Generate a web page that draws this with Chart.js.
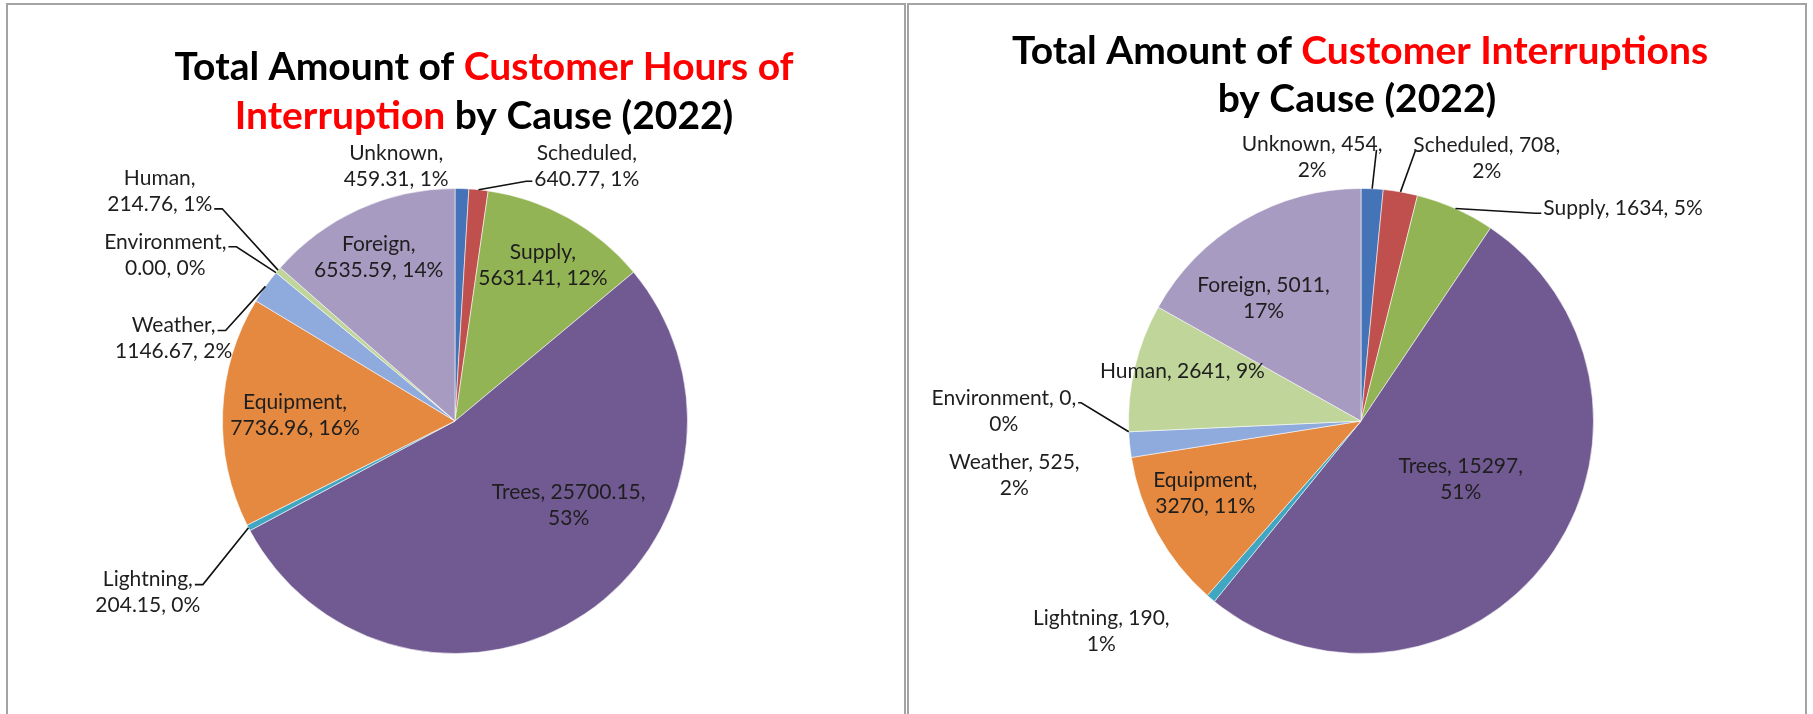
<!DOCTYPE html>
<html>
<head>
<meta charset="utf-8">
<title>Customer Hours of Interruption and Customer Interruptions by Cause (2022)</title>
<script src="https://cdn.jsdelivr.net/npm/chart.js@4.4.0/dist/chart.umd.min.js"></script>
<style>
  body { margin: 0; background: #fff; width: 1813px; height: 714px; overflow: hidden; position: relative; }
  .panel { position: absolute; top: 3px; width: 900px; height: 760px; border: 2px solid #a3a3a3; box-sizing: border-box; background: #fff; }
  .panel canvas { position: absolute; left: 0; top: 0; }
</style>
</head>
<body>
<div class="panel" style="left:6px"><canvas id="hoursChart" width="896" height="709"></canvas></div>
<div class="panel" style="left:907px"><canvas id="countChart" width="896" height="709"></canvas></div>

<script>
// data (slices run clockwise from 12 o'clock)
const causes = ['Unknown', 'Scheduled', 'Supply', 'Trees', 'Lightning', 'Equipment', 'Weather', 'Environment', 'Human', 'Foreign'];
const hoursValues = [459.31, 640.77, 5631.41, 25700.15, 204.15, 7736.96, 1146.67, 0.00, 214.76, 6535.59];
const hoursPercent = [1, 1, 12, 53, 0, 16, 2, 0, 1, 14];
const countValues = [454, 708, 1634, 15297, 190, 3270, 525, 0, 2641, 5011];
const countPercent = [2, 2, 5, 51, 1, 11, 2, 0, 9, 17];

const sliceColors = ['#4473b7', '#c0504d', '#93b455', '#715991', '#41a6c2', '#e4893f', '#8faadc', '#e6b9b8', '#c0d59a', '#a89bc1'];

const LABEL_FONT = '21px Lato, "Open Sans", sans-serif';
const TITLE_FONT = 'bold 39px Lato, "Open Sans", sans-serif';
const LINE_H = 26;

// label placement: fx/fy are offsets from the pie centre in radii, split = where the text wraps
const hoursPlaces = [
  { fx: -0.253, fy: -1.096, split: 1 },
  { fx: 0.567, fy: -1.096, split: 1, leader: { line: 1, side: 'left', stub: 6, dy: 2 } },
  { fx: 0.378, fy: -0.670, split: 1 },
  { fx: 0.489, fy: 0.361, split: 2 },
  { fx: -1.321, fy: 0.738, split: 1, leader: { line: 0, side: 'right', stub: 8, dy: 5 } },
  { fx: -0.688, fy: -0.025, split: 1 },
  { fx: -1.210, fy: -0.355, split: 1, leader: { line: 0, side: 'right', stub: 8, dy: 5 } },
  { fx: -1.246, fy: -0.715, split: 1, leader: { line: 0, side: 'right', stub: 8, dy: 5 } },
  { fx: -1.270, fy: -0.990, split: 1, leader: { line: 1, side: 'right', stub: 8, dy: 5 } },
  { fx: -0.328, fy: -0.703, split: 1 }
];
const countPlaces = [
  { fx: -0.210, fy: -1.136, split: 2, leader: { line: 0, side: 'right', stub: 0, dy: 6, inset: 8 } },
  { fx: 0.541, fy: -1.132, split: 2, leader: { line: 0, side: 'left', stub: 0, dy: 6, inset: 4 } },
  { fx: 1.127, fy: -0.915, split: 0, leader: { line: 0, side: 'left', stub: 6, dy: 5 } },
  { fx: 0.429, fy: 0.251, split: 2 },
  { fx: -1.117, fy: 0.903, split: 2 },
  { fx: -0.670, fy: 0.309, split: 1 },
  { fx: -1.491, fy: 0.235, split: 2 },
  { fx: -1.536, fy: -0.040, split: 2, leader: { line: 0, side: 'right', stub: 3, dy: 4 } },
  { fx: -0.768, fy: -0.216, split: 0 },
  { fx: -0.419, fy: -0.527, split: 2 }
];

function labelLines(name, value, pct, decimals, split) {
  const parts = [name + ',', value.toFixed(decimals) + ',', pct + '%'];
  if (split === 1) return [parts[0], parts[1] + ' ' + parts[2]];
  if (split === 2) return [parts[0] + ' ' + parts[1], parts[2]];
  return [parts.join(' ')];
}

// title with black / red pieces, centred on x
const titlePlugin = {
  id: 'mixedTitle',
  afterDraw(chart, args, opts) {
    const ctx = chart.ctx;
    ctx.save();
    ctx.font = TITLE_FONT;
    ctx.textBaseline = 'alphabetic';
    ctx.textAlign = 'left';
    opts.lines.forEach((segs, i) => {
      const total = segs.reduce((s, seg) => s + ctx.measureText(seg[0]).width, 0);
      let x = opts.x[i] - total / 2;
      segs.forEach(seg => {
        ctx.fillStyle = seg[1];
        ctx.fillText(seg[0], x, opts.y[i]);
        x += ctx.measureText(seg[0]).width;
      });
    });
    ctx.restore();
  }
};

// data labels + leader lines, placed relative to the pie the library laid out
const labelPlugin = {
  id: 'sliceLabels',
  afterDatasetsDraw(chart, args, opts) {
    const ctx = chart.ctx;
    const arcs = chart.getDatasetMeta(0).data;
    const cx = arcs[0].x, cy = arcs[0].y, r = arcs[0].outerRadius;
    const ds = chart.data.datasets[0];
    ctx.save();
    ctx.font = LABEL_FONT;
    ctx.fillStyle = '#1e1e1e';
    ctx.strokeStyle = '#111';
    ctx.lineWidth = 1.6;
    ctx.textAlign = 'center';
    ctx.textBaseline = 'middle';
    opts.places.forEach((p, i) => {
      const lines = labelLines(chart.data.labels[i], ds.data[i], opts.percent[i], opts.decimals, p.split);
      const x = cx + p.fx * r;
      const y0 = cy + p.fy * r - (lines.length - 1) * LINE_H / 2;
      lines.forEach((t, k) => ctx.fillText(t, x, y0 + k * LINE_H));
      if (p.leader) {
        const L = p.leader;
        const arc = arcs[i];
        const mid = (arc.startAngle + arc.endAngle) / 2;
        const ex = cx + Math.cos(mid) * r, ey = cy + Math.sin(mid) * r;
        const w = ctx.measureText(lines[L.line]).width;
        const dir = L.side === 'left' ? -1 : 1;
        const sx = x + dir * (w / 2 + 2 - (L.inset || 0));
        const sy = y0 + L.line * LINE_H + L.dy;
        ctx.beginPath();
        ctx.moveTo(sx, sy);
        ctx.lineTo(sx + dir * L.stub, sy);
        ctx.lineTo(ex, ey);
        ctx.stroke();
      }
    });
    ctx.restore();
  }
};

function makePie(id, values, percent, decimals, places, padding, title) {
  return new Chart(document.getElementById(id), {
    type: 'pie',
    data: {
      labels: causes,
      datasets: [{
        data: values,
        backgroundColor: sliceColors,
        borderColor: 'rgba(255,255,255,0.55)',
        borderWidth: 1
      }]
    },
    options: {
      responsive: false,
      animation: false,
      layout: { padding: padding },
      plugins: {
        legend: { display: false },
        tooltip: { enabled: false },
        mixedTitle: title,
        sliceLabels: { places: places, percent: percent, decimals: decimals }
      }
    },
    plugins: [labelPlugin, titlePlugin]
  });
}

makePie('hoursChart', hoursValues, hoursPercent, 2, hoursPlaces,
  { left: 214, right: 216, top: 183, bottom: 60 },
  {
    x: [476, 476], y: [75, 124],
    lines: [
      [['Total Amount of ', '#000'], ['Customer Hours of', '#ff0000']],
      [['Interruption', '#ff0000'], [' by Cause (2022)', '#000']]
    ]
  });

makePie('countChart', countValues, countPercent, 0, countPlaces,
  { left: 219, right: 211, top: 183, bottom: 60 },
  {
    x: [451, 448], y: [59, 107],
    lines: [
      [['Total Amount of ', '#000'], ['Customer Interruptions', '#ff0000']],
      [['by Cause (2022)', '#000']]
    ]
  });
</script>
</body>
</html>
